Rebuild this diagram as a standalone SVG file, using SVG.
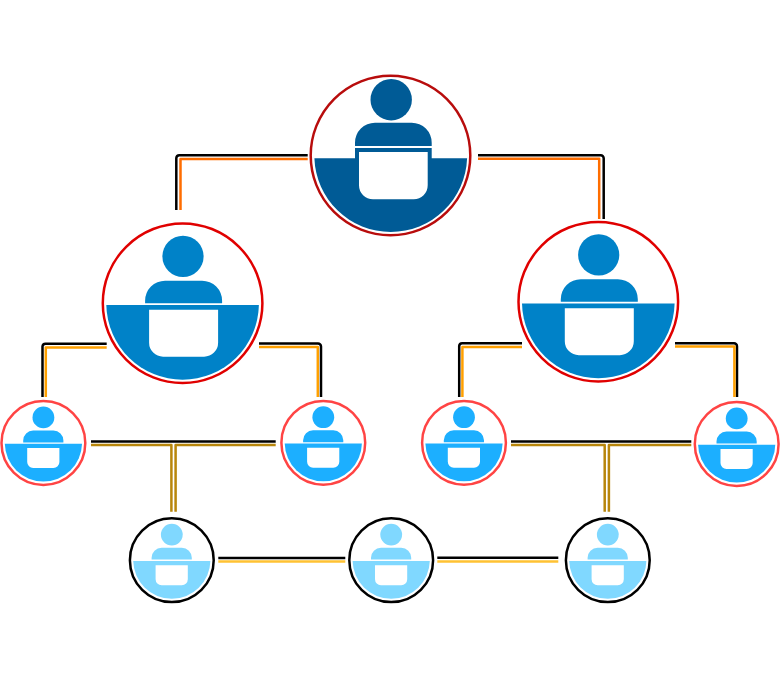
<svg xmlns="http://www.w3.org/2000/svg" width="780" height="680" viewBox="0 0 780 680">
<style>
.ring{fill:#fff;stroke-width:2.5}
.hole{fill:#fff}
.line{fill:none;stroke-width:2.5;stroke-linejoin:round}
.k{stroke:#000}
.o{stroke:#ff6d00}
.a{stroke:#ffa000}
.g{stroke:#b8860b}
.y{stroke:#ffc233}
</style>
<defs>
<g id="iconTop">
<circle cx="0.7" cy="-55.8" r="20.7"/>
<path d="M-35.5,-9.5V-12.8A20,20 0 0 1 -15.5,-32.8H21.2A20,20 0 0 1 41.2,-12.8V-9.5Z"/>
<path d="M-35.5,-7.5H41.2V2.8H76.6A76.4,76.4 0 0 1 -76.1,2.8H-35.5Z"/>
<path class="hole" d="M-31.5,-3.5H37.2V29.8A14,14 0 0 1 23.2,43.8H-17.5A14,14 0 0 1 -31.5,29.8Z"/>
</g>
<g id="iconMid">
<circle cx="0.4" cy="-46.8" r="20.6"/>
<path d="M-37.5,0V-2.5A20,20 0 0 1 -17.5,-22.5H19.5A20,20 0 0 1 39.5,-2.5V0Z"/>
<path d="M-76.3,1.9H76.3A76.32,76.32 0 0 1 -76.3,1.9Z"/>
<path class="hole" d="M-33.5,6.5H35.5V39.5A14,14 0 0 1 21.5,53.5H-19.5A14,14 0 0 1 -33.5,39.5Z"/>
</g>
<g id="iconSmall">
<circle cx="0" cy="-25.6" r="10.9"/>
<path d="M-20.2,-0.6V-2.5A10,10 0 0 1 -10.2,-12.5H10A10,10 0 0 1 20,-2.5V-0.6Z"/>
<path d="M-38.6,0.8H38.6A38.61,38.61 0 0 1 -38.6,0.8Z"/>
<path class="hole" d="M-16.2,5H16V19A6,6 0 0 1 10,25H-10.2A6,6 0 0 1 -16.2,19Z"/>
</g>
</defs>
<rect width="780" height="680" fill="#fff"/>
<g id="connectors">
<path class="line k" d="M176.3,210V158A3,3 0 0 1 179.3,155.3H307.7"/>
<path class="line o" d="M180.5,210V159H307.7"/>
<path class="line k" d="M478,155.2H600.7A3,3 0 0 1 603.7,158.2V219"/>
<path class="line o" d="M478,158.8H599.2V219"/>
<path class="line k" d="M42.5,397V346.5A3,3 0 0 1 45.5,343.7H106.7"/>
<path class="line a" d="M45.8,397V347.6H106.7"/>
<path class="line k" d="M259,343.4H318A3,3 0 0 1 321,346.4V397"/>
<path class="line a" d="M259,347H317.8V397"/>
<path class="line k" d="M459.2,397V346A3,3 0 0 1 462.2,343.2H522"/>
<path class="line a" d="M462.4,397V347H522"/>
<path class="line k" d="M675,343.3H734A3,3 0 0 1 737,346.3V397"/>
<path class="line a" d="M675,346.6H734.4V397"/>
<path class="line k" d="M91,441.5H275.7"/>
<path class="line g" d="M91,445H171.4V511.7M175.6,511.7V445H275.7"/>
<path class="line k" d="M511,441.5H691.3"/>
<path class="line g" d="M511,445H604.7V511.7M608.9,511.7V445H691.3"/>
<path class="line k" d="M218.3,558H345.3"/>
<path class="line y" d="M218.3,561.6H345.3"/>
<path class="line k" d="M437.3,557.8H558.3"/>
<path class="line y" d="M437.3,561.4H558.3"/>
</g>
<g id="node-top" transform="translate(390.5,155.5)" fill="#005b96">
<circle class="ring" r="79.8" stroke="#b80c0c"/><use href="#iconTop"/>
</g>
<g id="node-mid-left" transform="translate(182.6,303.2)" fill="#0082c8">
<circle class="ring" r="79.8" stroke="#e00000"/><use href="#iconMid"/>
</g>
<g id="node-mid-right" transform="translate(598.3,301.7)" fill="#0082c8">
<circle class="ring" r="79.8" stroke="#e00000"/><use href="#iconMid"/>
</g>
<g id="node-small-1" transform="translate(43.4,443)" fill="#1cafff">
<circle class="ring" r="41.9" stroke="#ff4444"/><use href="#iconSmall"/>
</g>
<g id="node-small-2" transform="translate(323.3,442.8)" fill="#1cafff">
<circle class="ring" r="41.9" stroke="#ff4444"/><use href="#iconSmall"/>
</g>
<g id="node-small-3" transform="translate(464,442.8)" fill="#1cafff">
<circle class="ring" r="41.9" stroke="#ff4444"/><use href="#iconSmall"/>
</g>
<g id="node-small-4" transform="translate(736.7,444)" fill="#1cafff">
<circle class="ring" r="41.9" stroke="#ff4444"/><use href="#iconSmall"/>
</g>
<g id="node-bottom-1" transform="translate(171.8,560.2)" fill="#80d8ff">
<circle class="ring" r="41.9" stroke="#000"/><use href="#iconSmall"/>
</g>
<g id="node-bottom-2" transform="translate(391.2,560.2)" fill="#80d8ff">
<circle class="ring" r="41.9" stroke="#000"/><use href="#iconSmall"/>
</g>
<g id="node-bottom-3" transform="translate(607.8,560.2)" fill="#80d8ff">
<circle class="ring" r="41.9" stroke="#000"/><use href="#iconSmall"/>
</g>
</svg>
